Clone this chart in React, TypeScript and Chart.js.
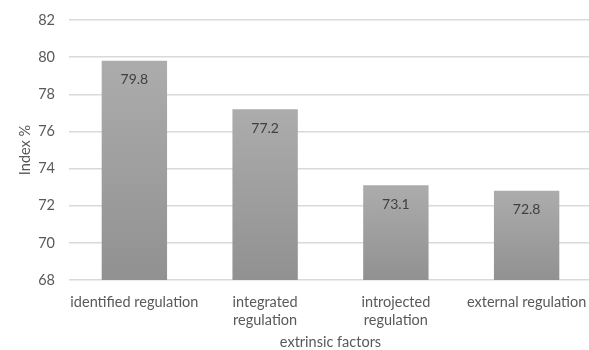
import React, { useEffect, useRef } from "react";
import { Chart, registerables } from "chart.js";

Chart.register(...registerables);

const categories: (string | string[])[] = [
  "identified regulation",
  ["integrated", "regulation"],
  ["introjected", "regulation"],
  "external regulation",
];
const values: number[] = [79.8, 77.2, 73.1, 72.8];
const yTicks: number[] = [68, 70, 72, 74, 76, 78, 80, 82];

const FONT = "Lato, 'Open Sans', sans-serif";

const valueLabels = {
  id: "valueLabels",
  afterDatasetsDraw(chart: any) {
    const ctx = chart.ctx;
    const meta = chart.getDatasetMeta(0);
    ctx.save();
    ctx.fillStyle = "#404040";
    ctx.font = `14px ${FONT}`;
    ctx.textAlign = "center";
    ctx.textBaseline = "middle";
    meta.data.forEach((bar: any, i: number) => {
      ctx.fillText(values[i].toFixed(1), bar.x, bar.y + 19);
    });
    ctx.restore();
  },
};

export default function App() {
  const ref = useRef<HTMLCanvasElement | null>(null);
  useEffect(() => {
    document.body.style.margin = "0";
    const canvas = ref.current!;
    const chart = new Chart(canvas, {
      type: "bar",
      data: {
        labels: categories,
        datasets: [
          {
            data: values,
            backgroundColor: (c: any) => {
              const ch = c.chart;
              const area = ch.chartArea;
              if (!area || c.raw === undefined) return "#9e9e9e";
              const top = ch.scales.y.getPixelForValue(c.raw);
              const g = ch.ctx.createLinearGradient(0, top, 0, area.bottom);
              g.addColorStop(0, "#acacac");
              g.addColorStop(1, "#919191");
              return g;
            },
            borderWidth: 0,
            barPercentage: 0.5,
            categoryPercentage: 1,
          },
        ],
      },
      options: {
        animation: false,
        responsive: false,
        maintainAspectRatio: false,
        layout: { padding: { top: 20, right: 0, left: 0, bottom: 0 } },
        plugins: { legend: { display: false }, tooltip: { enabled: false } },
        scales: {
          x: {
            grid: { display: false },
            border: { display: false },
            ticks: {
              color: "#595959",
              font: { family: FONT, size: 14.5, lineHeight: 1.27 },
              maxRotation: 0,
              minRotation: 0,
              autoSkip: false,
              padding: 5,
            },
            title: {
              display: true,
              text: "extrinsic factors",
              color: "#595959",
              font: { family: FONT, size: 14.5, lineHeight: 1 },
              padding: { top: 0, bottom: 0 },
            },
            afterFit: (axis: any) => {
              axis.height = 70;
              axis.paddingLeft = 0;
              axis.paddingRight = 0;
            },
          },
          y: {
            min: 68,
            max: 82,
            afterBuildTicks: (axis: any) => {
              axis.ticks = yTicks.map((v) => ({ value: v }));
            },
            grid: { color: "#d9d9d9", lineWidth: 1.5, drawTicks: false },
            border: { display: false },
            ticks: {
              color: "#595959",
              font: { family: FONT, size: 14.5 },
              padding: 14,
            },
            title: {
              display: true,
              text: "Index %",
              color: "#595959",
              font: { family: FONT, size: 14.5 },
              padding: { top: 17, bottom: 0 },
            },
            afterFit: (axis: any) => {
              axis.width = 69;
              axis.paddingTop = 0;
              axis.paddingBottom = 0;
            },
          },
        },
      },
      plugins: [valueLabels],
    });
    return () => chart.destroy();
  }, []);
  return (
    <div style={{ width: 589, height: 350, overflow: "hidden", background: "#fff" }}>
      <canvas ref={ref} width={592} height={350} style={{ display: "block" }} />
    </div>
  );
}
